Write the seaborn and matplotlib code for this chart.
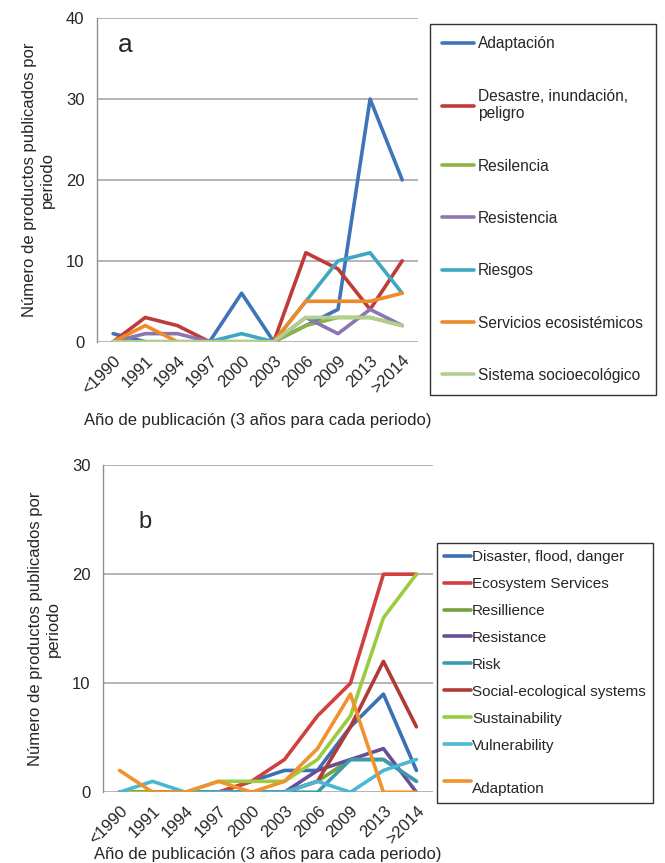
import pandas as pd
import matplotlib
matplotlib.use("Agg")
import matplotlib.pyplot as plt
import seaborn as sns
from matplotlib.ticker import FixedLocator

# periodos (eje x)
periods = ["<1990", "1991", "1994", "1997", "2000", "2003", "2006", "2009", "2013", ">2014"]

# panel a
a_adaptacion = [1, 0, 0, 0, 6, 0, 2, 4, 30, 20]
a_desastre = [0, 3, 2, 0, 0, 0, 11, 9, 4, 10]
a_resilencia = [0, 0, 0, 0, 0, 0, 2, 3, 3, 2]
a_resistencia = [0, 1, 1, 0, 0, 0, 3, 1, 4, 2]
a_riesgos = [0, 0, 0, 0, 1, 0, 5, 10, 11, 6]
a_servicios = [0, 2, 0, 0, 0, 0, 5, 5, 5, 6]
a_sistema = [0, 0, 0, 0, 0, 0, 3, 3, 3, 2]
a_names = ["Adaptación", "Desastre, inundación,\npeligro", "Resilencia", "Resistencia",
           "Riesgos", "Servicios ecosistémicos", "Sistema socioecológico"]
a_colors = ["#3F74B8", "#BE3B37", "#8DB443", "#8C76B2", "#3FA7BF", "#EE8A2A", "#B2CF8E"]

# panel b
b_disaster = [0, 0, 0, 0, 1, 2, 2, 6, 9, 2]
b_ecosystem = [0, 0, 0, 0, 1, 3, 7, 10, 20, 20]
b_resillience = [0, 0, 0, 0, 0, 0, 1, 3, 3, 1]
b_resistance = [0, 0, 0, 0, 0, 0, 2, 3, 4, 0]
b_risk = [0, 0, 0, 0, 0, 0, 0, 3, 3, 1]
b_social = [0, 0, 0, 0, 0, 0, 1, 6, 12, 6]
b_sustainability = [0, 0, 0, 1, 1, 1, 3, 7, 16, 20]
b_vulnerability = [0, 1, 0, 0, 0, 0, 1, 0, 2, 3]
b_adaptation = [2, 0, 0, 1, 0, 1, 4, 9, 0, 0]
b_names = ["Disaster, flood, danger", "Ecosystem Services", "Resillience", "Resistance", "Risk",
           "Social-ecological systems", "Sustainability", "Vulnerability", "\nAdaptation"]
b_colors = ["#3A70B5", "#D0403C", "#77A03C", "#6B4C9A", "#3A9BB0", "#B03A36", "#9BCB3F",
            "#4BB7D3", "#F0922D"]

a_series = [a_adaptacion, a_desastre, a_resilencia, a_resistencia, a_riesgos, a_servicios, a_sistema]
b_series = [b_disaster, b_ecosystem, b_resillience, b_resistance, b_risk, b_social,
            b_sustainability, b_vulnerability, b_adaptation]


def to_long(names, series):
    rows = []
    for name, vals in zip(names, series):
        for i, v in enumerate(vals):
            rows.append({"x": i, "valor": v, "serie": name})
    return pd.DataFrame(rows)


sns.set_style("white")
plt.rcParams["font.family"] = ["Liberation Sans", "DejaVu Sans"]

fig = plt.figure(figsize=(6.65, 8.63), dpi=100)
ax_a = fig.add_axes([0.146, 0.604, 0.483, 0.375])
ax_b = fig.add_axes([0.155, 0.082, 0.496, 0.379])

ylab = "Número de productos publicados por\nperiodo"
xlab = "Año de publicación (3 años para cada periodo)"


def style_axis(ax, ymax, step, xlabelpad):
    ax.set_xlim(-0.5, 9.5)
    ax.set_ylim(0, ymax)
    ax.set_yticks(range(0, ymax + 1, step))
    ax.set_xticks(range(10))
    ax.set_xticklabels(periods, rotation=45, ha="right", rotation_mode="anchor", fontsize=12)
    ax.xaxis.set_minor_locator(FixedLocator([i + 0.5 for i in range(-1, 10)]))
    ax.tick_params(axis="x", which="major", length=0, pad=8)
    ax.tick_params(axis="x", which="minor", length=5, color="#909090", direction="out")
    ax.tick_params(axis="y", length=5, color="#909090", direction="out", labelsize=12, pad=4)
    ax.yaxis.grid(True, color="#A0A0A0", linewidth=1.1)
    ax.set_axisbelow(True)
    for s in ["top", "right", "bottom"]:
        ax.spines[s].set_visible(False)
    ax.spines["left"].set_color("#909090")
    ax.spines["left"].set_linewidth(1.0)
    ax.set_ylabel(ylab, fontsize=12, labelpad=8)
    ax.set_xlabel(xlab, fontsize=12, labelpad=xlabelpad)


df_a = to_long(a_names, a_series)
sns.lineplot(data=df_a, x="x", y="valor", hue="serie", palette=dict(zip(a_names, a_colors)),
             hue_order=a_names, linewidth=2.6, ax=ax_a, legend=True)
style_axis(ax_a, 40, 10, 12)
ax_a.text(0.087, 0.917, "a", transform=ax_a.transAxes, fontsize=19, va="center", ha="center")
h, l = ax_a.get_legend_handles_labels()
ax_a.get_legend().remove()
fig.legend(h, l, loc="upper left", bbox_to_anchor=(430 / 665, 1 - 24 / 863), fontsize=11.2,
           frameon=True, fancybox=False, edgecolor="black", labelspacing=2.4,
           handlelength=2.0, handletextpad=0.3, borderpad=0.8, borderaxespad=0)

df_b = to_long(b_names, b_series)
sns.lineplot(data=df_b, x="x", y="valor", hue="serie", palette=dict(zip(b_names, b_colors)),
             hue_order=b_names, linewidth=2.6, ax=ax_b, legend=True)
style_axis(ax_b, 30, 10, 0)
ax_b.text(0.127, 0.826, "b", transform=ax_b.transAxes, fontsize=17, va="center", ha="center")
h, l = ax_b.get_legend_handles_labels()
ax_b.get_legend().remove()
leg_b = fig.legend(h, l, loc="upper left", bbox_to_anchor=(437 / 665, 1 - 543 / 863), fontsize=11,
                   frameon=True, fancybox=False, edgecolor="black", labelspacing=0.85,
                   handlelength=1.8, handletextpad=0.05, borderpad=0.45, borderaxespad=0)
for line in leg_b.get_lines():
    line.set_linewidth(2.6)

fig.savefig("out.png", dpi=100, facecolor="white")
